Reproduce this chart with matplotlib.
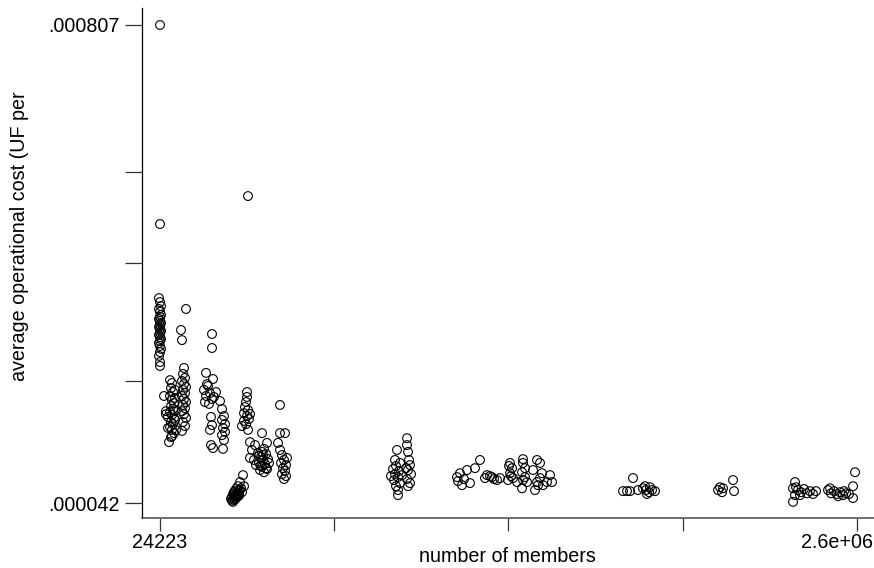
import numpy as np
import matplotlib
matplotlib.use("Agg")
import matplotlib.pyplot as plt
from matplotlib.transforms import ScaledTranslation

# (members, cost in millionths of UF), one list per group of points
grp_24k = [(24223, 807), (24223, 235.7), (24061, 149.1), (24223, 145.5), (24386, 141.9),
           (24061, 139.4), (24223, 136.9), (24386, 134.3), (24223, 132.7), (24061, 131.0),
           (24223, 129.4), (24386, 127.8), (24223, 126.2), (24061, 124.7), (24223, 123.2),
           (24386, 121.7), (24223, 120.2), (24061, 118.7), (24223, 117.2), (24386, 115.7),
           (24223, 114.3), (24061, 112.9), (24223, 110.9), (24386, 108.9), (24223, 106.8),
           (24061, 104.3), (24223, 100.4), (24223, 98.0)]
grp_26k = [(24882, 81.4), (25218, 74.1), (25218, 72.7), (25557, 71.5), (25904, 89.8),
           (26253, 88.2), (26079, 85.5), (26430, 83.4), (25904, 81.4), (26253, 79.4),
           (26609, 77.9), (26079, 76.5), (26430, 75.1), (25904, 73.7), (26253, 72.4),
           (26609, 71.1), (26079, 69.3), (26430, 68.4), (25904, 67.2), (26253, 66.0),
           (26609, 64.7), (26079, 63.1), (25729, 61.2), (25557, 66.8), (26253, 63.5),
           (26789, 84.5), (26789, 80.4), (26789, 74.6), (26789, 70.2), (26968, 66.0)]
grp_28k = [(28840, 139.4), (27888, 122.4), (28075, 115.0), (28454, 96.8), (28263, 93.3),
           (28646, 91.0), (28075, 89.3), (28454, 87.6), (28840, 86.1), (28263, 84.5),
           (28646, 82.9), (28075, 81.4), (28454, 79.9), (28840, 78.4), (28263, 77.0),
           (28646, 75.5), (28075, 74.1), (28454, 72.7), (28840, 71.1), (28263, 69.3),
           (28646, 67.6), (28075, 65.6)]
grp_34k = [(34336, 119.4), (34336, 109.5), (32982, 93.9), (34566, 90.4), (33425, 86.6),
           (32541, 84.5), (33878, 82.9), (32982, 81.4), (34336, 79.9), (32759, 78.4),
           (33650, 77.5), (34799, 80.9), (35268, 83.4), (34106, 71.5), (34336, 68.0),
           (33878, 66.0), (34106, 60.1), (34566, 59.0), (33203, 87.6)]
grp_37k = [(36229, 78.9), (36720, 75.1), (37213, 71.9), (36720, 70.2), (37466, 68.4),
           (36967, 66.8), (37466, 65.2), (36720, 63.9), (37213, 62.0), (36967, 58.7)]
grp_43k = [(43713, 280.2), (43422, 83.4), (43422, 80.9), (43131, 78.4), (42846, 76.0),
           (43713, 74.6), (42557, 73.2), (43422, 71.9), (44010, 70.6), (42557, 69.8),
           (43131, 68.4), (41988, 67.6), (43713, 66.0), (44306, 72.8)]
grp_40k = [(42274, 49.9), (41429, 47.8), (40878, 46.6), (41709, 46.0), (40334, 45.8),
           (41152, 45.2), (39798, 44.9), (40604, 44.6), (41988, 44.9), (39530, 44.4),
           (40064, 44.1), (40878, 43.8), (39266, 43.6), (40334, 43.3), (39798, 42.8),
           (39530, 42.3), (39001, 43.1), (41429, 45.5), (42557, 46.6), (41152, 44.4),
           (40064, 45.2), (39266, 42.6), (40064, 43.0), (40604, 43.6), (39798, 43.9),
           (41152, 44.0)]
grp_48k = [(48022, 64.7), (49659, 60.9), (44306, 61.2), (44902, 58.3), (44306, 55.5),
           (45815, 60.1), (46750, 57.2), (47700, 55.8), (48671, 58.7), (49330, 56.9),
           (49994, 55.1), (48344, 54.8), (47066, 53.8), (48996, 53.5), (48022, 52.5),
           (49659, 51.8), (47380, 51.5), (48671, 50.8), (46128, 53.1), (50331, 53.8),
           (45509, 54.8), (48344, 56.5), (47700, 52.8), (49330, 52.1), (48022, 57.6),
           (47066, 56.2)]
grp_55k = [(54180, 77.0), (54180, 64.7), (56034, 64.7), (53457, 60.9), (54180, 58.3),
           (54916, 56.5), (55657, 54.8), (54550, 53.8), (56406, 53.1), (55281, 52.1),
           (56034, 51.2), (54916, 50.2), (56406, 49.6), (55657, 48.7), (56789, 55.5)]
grp_120k = [(127033, 62.7), (127033, 60.1), (118781, 58.3), (127883, 57.6), (117206, 54.8),
            (121207, 53.8), (117993, 52.8), (115640, 51.8), (120396, 51.2), (117206, 50.2),
            (119581, 49.3), (116424, 48.4), (121207, 47.5), (117993, 46.6), (119581, 45.5),
            (119581, 44.1), (128743, 54.8), (129617, 53.1), (127883, 51.5), (130494, 50.2),
            (127033, 48.7), (129617, 47.5), (127883, 46.6), (126183, 52.1), (114106, 49.6),
            (122842, 49.9)]
grp_250k = [(181258, 50.5), (189983, 51.5), (200448, 52.1), (207295, 54.8), (183704, 46.9),
            (193842, 47.5), (177651, 49.3), (186182, 48.7), (178850, 48.1),
            (217251, 49.9), (224673, 49.3), (232330, 48.4), (214359, 49.0), (237070, 49.0),
            (221684, 49.6), (227707, 48.7),
            (253540, 53.8), (256955, 52.1), (253540, 50.5), (250150, 48.4), (258700, 49.0),
            (265720, 47.8), (255240, 49.6), (251830, 52.8),
            (276650, 55.1), (276650, 53.8), (274790, 50.8), (280380, 49.3), (276650, 48.4),
            (274790, 46.0), (284160, 47.8), (280380, 52.1),
            (303900, 54.8), (310060, 53.8), (295860, 51.5), (314220, 50.5), (303900, 47.8),
            (299840, 45.5), (324950, 47.8), (331560, 49.9), (336020, 47.8), (316330, 46.9),
            (305940, 46.9), (310060, 49.0)]
grp_600k = [(541090, 45.2), (555800, 45.2), (567090, 45.2), (578640, 49.0), (598360, 45.5),
            (618750, 46.0), (631380, 45.5), (644190, 44.9), (657300, 45.5), (670690, 45.2),
            (635610, 44.4), (648520, 46.3), (627160, 46.6)]
grp_1m = [(1132000, 48.4), (1139600, 45.2), (1037400, 46.3), (1051400, 44.9),
          (1023600, 45.5), (1058500, 46.0)]
grp_1_8m = [(1715700, 47.8), (1692800, 46.0), (1715700, 44.1), (1692800, 42.3),
            (1750500, 45.5), (1786100, 44.9), (1822500, 45.8), (1859500, 44.6),
            (1897400, 45.2), (1935900, 44.4), (1975300, 45.2), (1727500, 46.3),
            (1774200, 44.1)]
grp_2_3m = [(2566200, 50.8), (2531800, 46.6), (2531800, 43.3), (2140800, 45.5),
            (2184500, 44.6), (2228900, 45.2), (2274200, 44.4), (2320300, 44.9),
            (2367700, 44.1), (2415800, 44.6), (2464900, 44.4), (2169900, 46.0),
            (2289500, 43.8), (2383600, 45.2)]

groups = [grp_24k, grp_26k, grp_28k, grp_34k, grp_37k, grp_43k, grp_40k, grp_48k,
          grp_55k, grp_120k, grp_250k, grp_600k, grp_1m, grp_1_8m, grp_2_3m]

# axis ends and labels
x_min_label, x_max_label = 24223, 2.6e6
y_tick_vals = [42e-6, 89.3e-6, 185e-6, 325e-6, 807e-6]
y_tick_text = [".000042", "", "", "", ".000807"]
x_tick_text = ["24223", "", "", "", "2.6e+06"]

plt.rcParams["font.family"] = ["Liberation Sans", "DejaVu Sans"]

fig = plt.figure(figsize=(8.74, 5.68), dpi=100)
ax = fig.add_axes([142 / 874, 1 - 518 / 568, 732 / 874, 510 / 568])

# stack all points and plot as hollow circles
pts = np.array([p for g in groups for p in g], dtype=float)
members = pts[:, 0]
cost = pts[:, 1] * 1e-6
ax.scatter(members, cost, s=40, facecolors="none", edgecolors="black", linewidths=0.8)

ax.set_xscale("log")
ax.set_yscale("log")
ax.set_xlim(21467, 2914300)
ax.set_ylim(38.28e-6, 896.3e-6)

ax.set_xticks(np.geomspace(x_min_label, x_max_label, 5))
ax.set_xticklabels(x_tick_text)
ax.set_yticks(y_tick_vals)
ax.set_yticklabels(y_tick_text)
ax.minorticks_off()

ax.tick_params(axis="x", length=9, width=0.9, color="#333333", pad=2, labelsize=14.2)
ax.tick_params(axis="y", length=12, width=0.9, color="#333333", pad=4, labelsize=14.2)

# last x label sits left of its tick so it stays inside the figure
last = ax.get_xticklabels()[-1]
last.set_horizontalalignment("right")
last.set_transform(last.get_transform() + ScaledTranslation(0.16, 0, fig.dpi_scale_trans))

for side in ["top", "right"]:
    ax.spines[side].set_visible(False)
ax.spines["left"].set_color("black")
ax.spines["bottom"].set_color("#555555")
ax.spines["left"].set_linewidth(0.9)
ax.spines["bottom"].set_linewidth(1.2)

fig.text(507 / 874, 1 - 557 / 568, "number of members", ha="center", va="center", fontsize=14.2)
fig.text(20 / 874, 1 - 236 / 568, "average operational cost (UF per", rotation=90,
         ha="center", va="center", fontsize=14.2)

fig.savefig("out.png", dpi=100, facecolor="white")
